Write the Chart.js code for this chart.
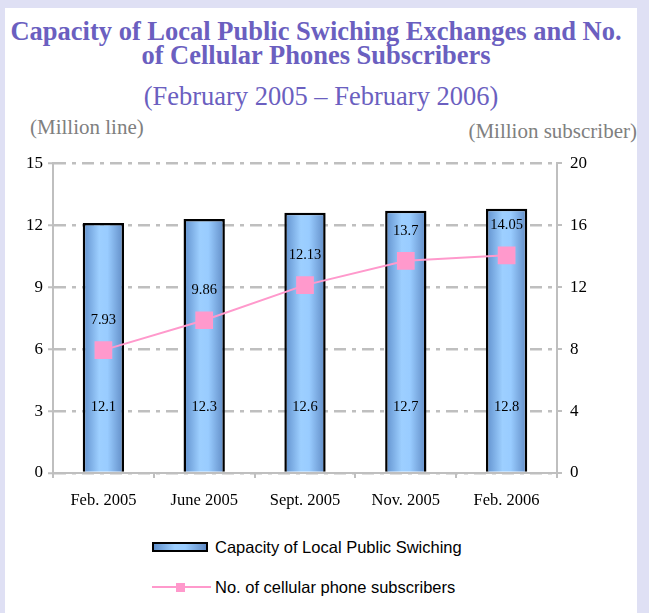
<!DOCTYPE html>
<html>
<head>
<meta charset="utf-8">
<script src="https://cdn.jsdelivr.net/npm/chart.js@4.4.1/dist/chart.umd.min.js"></script>
<style>
  html, body { margin: 0; padding: 0; }
  body { width: 649px; height: 613px; background: #dfe0f4; position: relative; overflow: hidden; }
  #panel { position: absolute; left: 5px; top: 8px; width: 632px; height: 620px; background: #ffffff; }
  .t { position: absolute; font-family: "Liberation Serif", "Times New Roman", serif; white-space: nowrap; }
  #title { left: 5px; width: 622px; top: 19px; text-align: center; color: #6b5fc0; font-weight: bold; font-size: 26.5px; line-height: 24px; }
  #subtitle { left: 5px; width: 632px; top: 83px; text-align: center; color: #6b5fc0; font-size: 26.5px; line-height: 27px; }
  #unitL { left: 30px; top: 117px; color: #808080; font-size: 21px; line-height: 21px; }
  #unitR { right: 12px; top: 121px; color: #808080; font-size: 21px; line-height: 21px; }
  #wrap { position: absolute; left: 0; top: 145px; width: 640px; height: 370px; }
  #legend { position: absolute; left: 152px; top: 537px; font-family: "Liberation Sans", Arial, sans-serif; font-size: 16.5px; color: #000; }
  .li { position: relative; height: 20px; margin-bottom: 20px; }
  .li span.txt { position: absolute; left: 63px; top: 0; line-height: 20px; white-space: nowrap; }
  .sw-bar { position: absolute; left: 0; top: 5px; width: 52px; height: 6px; border: 2px solid #000;
            background: linear-gradient(to right, #5f8fcc, #9dcfff 40%, #99ccff 60%, #5f8ac4); }
  .sw-line { position: absolute; left: 0; top: 9px; width: 59px; height: 2px; background: #ff99cc; }
  .sw-pt { position: absolute; left: 24px; top: 6px; width: 9px; height: 9px; background: #ff99cc; }
</style>
</head>
<body>
<div id="panel"></div>
<div class="t" id="title">Capacity of Local Public Swiching Exchanges and No.<br>of Cellular Phones Subscribers</div>
<div class="t" id="subtitle">(February 2005 – February 2006)</div>
<div class="t" id="unitL">(Million line)</div>
<div class="t" id="unitR">(Million subscriber)</div>
<div id="wrap"><canvas id="c" width="640" height="370"></canvas></div>
<div id="legend"></div>
<script>
const categories = ["Feb. 2005", "June 2005", "Sept. 2005", "Nov. 2005", "Feb. 2006"];
const capacityValues = [12.1, 12.3, 12.6, 12.7, 12.8];
const capacityLabels = ["12.1", "12.3", "12.6", "12.7", "12.8"];
const subscriberValues = [7.93, 9.86, 12.13, 13.7, 14.05];
const subscriberLabels = ["7.93", "9.86", "12.13", "13.7", "14.05"];
const leftTicks = [0, 3, 6, 9, 12, 15];
const rightTicks = [0, 4, 8, 12, 16, 20];
const seriesNames = ["Capacity of Local Public Swiching", "No. of cellular phone subscribers"];

const BAR_FRAC = 0.41;
const SERIF = "'Liberation Serif', 'Times New Roman', serif";

function barGradient(ctx) {
  const chart = ctx.chart;
  const xs = chart.scales && chart.scales.x;
  if (!xs || ctx.dataIndex === undefined) return '#99ccff';
  const cx = xs.getPixelForValue(ctx.dataIndex);
  const half = (xs.width / categories.length) * BAR_FRAC / 2;
  if (!isFinite(cx) || !isFinite(half) || half <= 0) return '#99ccff';
  const g = chart.ctx.createLinearGradient(cx - half, 0, cx + half, 0);
  g.addColorStop(0, '#5f8fcc');
  g.addColorStop(0.4, '#9dcfff');
  g.addColorStop(0.6, '#99ccff');
  g.addColorStop(1, '#5f8ac4');
  return g;
}

const labelPlugin = {
  id: 'valueLabels',
  afterDatasetsDraw(chart) {
    const c = chart.ctx;
    c.save();
    c.font = "14.5px " + SERIF;
    c.fillStyle = '#000';
    c.textAlign = 'center';
    c.textBaseline = 'middle';
    const barMeta = chart.getDatasetMeta(0);
    barMeta.data.forEach((el, i) => {
      c.fillText(capacityLabels[i], el.x, el.base - 65);
    });
    const lineMeta = chart.getDatasetMeta(1);
    lineMeta.data.forEach((el, i) => {
      c.fillText(subscriberLabels[i], el.x, el.y - 30);
    });
    c.restore();
  }
};

const gridColor = '#bfbfbf';

new Chart(document.getElementById('c'), {
  type: 'bar',
  data: {
    labels: categories,
    datasets: [
      {
        type: 'bar',
        label: seriesNames[0],
        data: capacityValues,
        yAxisID: 'y',
        backgroundColor: barGradient,
        borderColor: '#000',
        borderWidth: 2.5,
        borderSkipped: 'bottom',
        barPercentage: BAR_FRAC,
        categoryPercentage: 1.0,
        order: 2
      },
      {
        type: 'line',
        label: seriesNames[1],
        data: subscriberValues,
        yAxisID: 'y2',
        borderColor: '#ff99cc',
        backgroundColor: '#ff99cc',
        borderWidth: 2,
        pointStyle: 'rect',
        pointRadius: 12.5,
        pointHoverRadius: 12.5,
        pointBackgroundColor: '#ff99cc',
        pointBorderColor: '#ff99cc',
        pointBorderWidth: 0,
        tension: 0,
        order: 1
      }
    ]
  },
  options: {
    responsive: false,
    animation: false,
    devicePixelRatio: 1,
    layout: { padding: { top: 17, right: 33, left: 0, bottom: 0 } },
    plugins: {
      legend: { display: false },
      tooltip: { enabled: false },
      title: { display: false }
    },
    scales: {
      x: {
        grid: { display: true, offset: true, drawOnChartArea: false, drawTicks: true, tickLength: 5, color: gridColor, lineWidth: 2 },
        border: { display: true, color: gridColor, width: 2 },
        ticks: { color: '#000', font: { family: SERIF, size: 16.5 }, padding: 13 },
        afterFit(s) { s.height = 42; }
      },
      y: {
        position: 'left',
        min: 0, max: 15,
        afterBuildTicks(s) { s.ticks = leftTicks.map(v => ({ value: v })); },
        grid: { color: gridColor, lineWidth: 2.5, drawTicks: true, tickLength: 5, tickColor: gridColor, tickWidth: 2, tickBorderDash: [] },
        border: { display: true, color: gridColor, width: 2, dash: [12, 6, 4, 6] },
        ticks: { color: '#000', font: { family: SERIF, size: 17 }, padding: 5 },
        afterFit(s) { s.width = 53; }
      },
      y2: {
        position: 'right',
        min: 0, max: 20,
        afterBuildTicks(s) { s.ticks = rightTicks.map(v => ({ value: v })); },
        grid: { drawOnChartArea: false, drawTicks: true, tickLength: 5, color: gridColor, lineWidth: 2 },
        border: { display: true, color: gridColor, width: 2 },
        ticks: { color: '#000', font: { family: SERIF, size: 17 }, padding: 8 },
        afterFit(s) { s.width = 50; }
      }
    }
  },
  plugins: [labelPlugin]
});

// HTML legend built from series names
const legend = document.getElementById('legend');
seriesNames.forEach((name, i) => {
  const row = document.createElement('div');
  row.className = 'li';
  if (i === 0) {
    const sw = document.createElement('div'); sw.className = 'sw-bar'; row.appendChild(sw);
  } else {
    const ln = document.createElement('div'); ln.className = 'sw-line'; row.appendChild(ln);
    const pt = document.createElement('div'); pt.className = 'sw-pt'; row.appendChild(pt);
  }
  const t = document.createElement('span'); t.className = 'txt'; t.textContent = name; row.appendChild(t);
  legend.appendChild(row);
});
</script>
</body>
</html>
